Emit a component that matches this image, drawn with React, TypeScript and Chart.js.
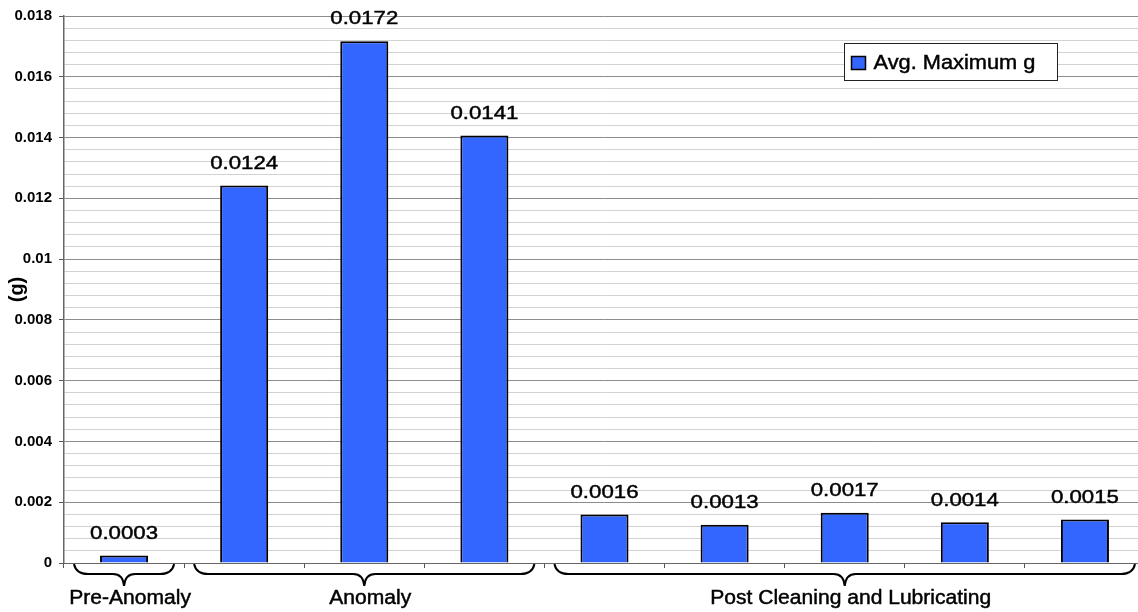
import React, { useEffect, useRef } from 'react';
import { Chart, registerables } from 'chart.js';

Chart.register(...registerables);

// ---- data ----
const categories = [
  'Pre-Anomaly',
  'Anomaly 1',
  'Anomaly 2',
  'Anomaly 3',
  'Post 1',
  'Post 2',
  'Post 3',
  'Post 4',
  'Post 5',
];
const avgMaximumG = [0.00025, 0.01242, 0.01717, 0.01407, 0.0016, 0.00126, 0.00165, 0.00134, 0.00143];
const valueLabels = ['0.0003', '0.0124', '0.0172', '0.0141', '0.0016', '0.0013', '0.0017', '0.0014', '0.0015'];
const groupNames = ['Pre-Anomaly', 'Anomaly', 'Post Cleaning and Lubricating'];
const groupFirst = [0, 1, 4];
const groupLast = [0, 3, 8];
const seriesName = 'Avg. Maximum g';
const yAxisTitle = '(g)';
const yMin = 0;
const yMax = 0.018;
const yMinorStep = 0.0004;
const yMajorEvery = 5; // major tick every 5 minor steps (0.002)

const BAR_COLOR = '#3366FF';
const FONT = '"Liberation Sans", Arial, Helvetica, sans-serif';

function isMajor(v: number) {
  return Math.round(v / yMinorStep) % yMajorEvery === 0;
}

function drawScaledText(ctx: CanvasRenderingContext2D, text: string, x: number, y: number, sx: number) {
  ctx.save();
  ctx.translate(x, y);
  ctx.scale(sx, 1);
  ctx.lineWidth = 0.45;
  ctx.strokeStyle = ctx.fillStyle as string;
  ctx.fillText(text, 0, 0);
  ctx.strokeText(text, 0, 0);
  ctx.restore();
}

const annotationsPlugin = {
  id: 'annotations',
  afterDatasetsDraw(chart: any) {
    const ctx: CanvasRenderingContext2D = chart.ctx;
    const meta = chart.getDatasetMeta(0);
    ctx.save();
    ctx.fillStyle = '#000';
    ctx.font = `19px ${FONT}`;
    ctx.textAlign = 'center';
    ctx.textBaseline = 'middle';
    meta.data.forEach((bar: any, i: number) => {
      const p = bar.getProps(['x', 'y'], true);
      drawScaledText(ctx, valueLabels[i], p.x, p.y - 22, 1.17);
    });
    ctx.restore();
  },
  afterDraw(chart: any) {
    const ctx: CanvasRenderingContext2D = chart.ctx;
    const xs = chart.scales.x;
    const area = chart.chartArea;
    const half = (xs.getPixelForValue(1) - xs.getPixelForValue(0)) / 2;
    const base = area.bottom;

    // group brackets
    ctx.save();
    ctx.strokeStyle = '#000';
    ctx.lineWidth = 2;
    ctx.fillStyle = '#000';
    ctx.font = `19.5px ${FONT}`;
    ctx.textAlign = 'center';
    ctx.textBaseline = 'middle';
    groupNames.forEach((name, g) => {
      const x0 = xs.getPixelForValue(groupFirst[g]) - half + 10;
      const x1 = xs.getPixelForValue(groupLast[g]) + half - 10;
      const cx = (x0 + x1) / 2;
      const y0 = base + 1;
      const yh = base + 11;
      const yt = base + 23;
      ctx.beginPath();
      ctx.moveTo(x0, y0);
      ctx.quadraticCurveTo(x0 + 2, yh, x0 + 14, yh);
      ctx.lineTo(cx - 11, yh);
      ctx.quadraticCurveTo(cx - 1, yh, cx, yt);
      ctx.quadraticCurveTo(cx + 1, yh, cx + 11, yh);
      ctx.lineTo(x1 - 14, yh);
      ctx.quadraticCurveTo(x1 - 2, yh, x1, y0);
      ctx.lineWidth = 2;
      ctx.stroke();
      drawScaledText(ctx, name, cx + 6, base + 36, 1.08);
    });
    ctx.restore();

    // legend box
    ctx.save();
    const bx = Math.round(area.right - 301) + 0.5;
    const by = Math.round(area.top + 27) + 0.5;
    const bw = 213;
    const bh = 37;
    ctx.fillStyle = '#fff';
    ctx.fillRect(bx, by, bw, bh);
    ctx.strokeStyle = '#222';
    ctx.lineWidth = 1;
    ctx.strokeRect(bx, by, bw, bh);
    ctx.fillStyle = BAR_COLOR;
    ctx.fillRect(bx + 7, by + 13, 14, 13);
    ctx.strokeStyle = '#000';
    ctx.lineWidth = 1.5;
    ctx.strokeRect(bx + 7, by + 13, 14, 13);
    ctx.fillStyle = '#000';
    ctx.font = `20px ${FONT}`;
    ctx.textAlign = 'left';
    ctx.textBaseline = 'middle';
    drawScaledText(ctx, seriesName, bx + 29, by + 20, 1.09);
    ctx.restore();
  },
};

export default function App() {
  const canvasRef = useRef<HTMLCanvasElement | null>(null);

  useEffect(() => {
    const canvas = canvasRef.current;
    if (!canvas) return;
    const chart = new Chart(canvas, {
      type: 'bar',
      data: {
        labels: categories,
        datasets: [
          {
            label: seriesName,
            data: avgMaximumG,
            backgroundColor: BAR_COLOR,
            borderColor: '#000',
            borderWidth: 2,
            categoryPercentage: 1,
            barPercentage: 0.4,
          },
        ],
      },
      options: {
        responsive: false,
        animation: false,
        devicePixelRatio: 1,
        layout: { padding: { top: 16, bottom: 43, left: 0, right: 1 } },
        plugins: {
          legend: { display: false },
          tooltip: { enabled: false },
          title: { display: false },
        },
        scales: {
          x: {
            type: 'category',
            offset: true,
            grid: {
              display: true,
              drawOnChartArea: false,
              drawTicks: true,
              tickLength: 5,
              offset: true,
              color: '#555',
            },
            border: { display: true, color: '#666', width: 1 },
            ticks: { display: false },
            afterFit: (scale: any) => {
              scale.height = 6;
            },
          },
          y: {
            type: 'linear',
            min: yMin,
            max: yMax,
            border: { display: true, color: '#666', width: 1.5 },
            grid: {
              drawTicks: true,
              tickLength: 5,
              color: (c: any) => (c.tick && isMajor(c.tick.value) ? '#8c8c8c' : '#d2d2d2'),
              tickColor: (c: any) => (c.tick && isMajor(c.tick.value) ? '#555' : 'rgba(0,0,0,0)'),
              lineWidth: 1,
            },
            ticks: {
              stepSize: yMinorStep,
              autoSkip: false,
              padding: 7,
              color: '#000',
              font: { family: FONT, size: 15, weight: 'bold' },
              callback: (v: any) => {
                const n = Number(v);
                return isMajor(n) ? String(Math.round(n * 1000) / 1000) : '';
              },
            },
            title: {
              display: true,
              text: yAxisTitle,
              color: '#000',
              font: { family: FONT, size: 20, weight: 'bold' },
              padding: { top: 5, bottom: 0 },
            },
            afterFit: (scale: any) => {
              scale.width = 64;
            },
          },
        },
      },
      plugins: [annotationsPlugin],
    } as any);
    return () => chart.destroy();
  }, []);

  return (
    <div
      style={{
        position: 'fixed',
        left: 0,
        top: 0,
        width: 1138,
        height: 612,
        overflow: 'hidden',
        background: '#fff',
      }}
    >
      <canvas ref={canvasRef} width={1146} height={612} style={{ display: 'block', width: 1146, height: 612 }} />
    </div>
  );
}
